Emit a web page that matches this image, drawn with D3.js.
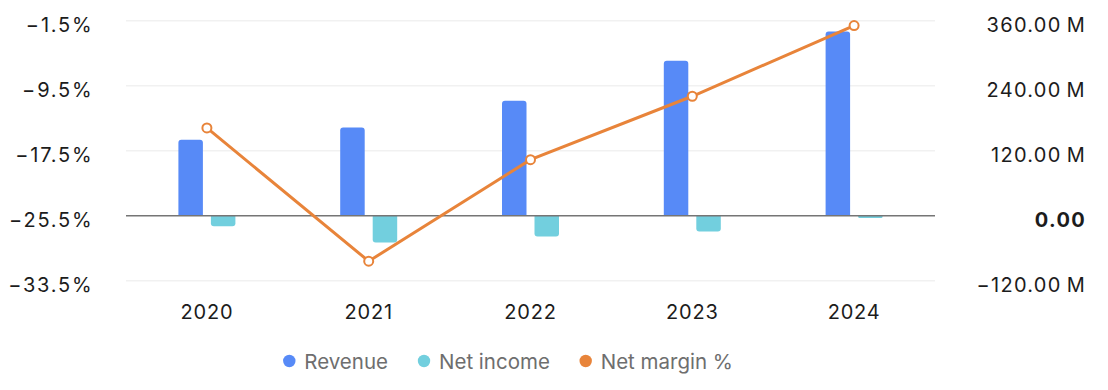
<!DOCTYPE html>
<html lang="en">
<head>
<meta charset="UTF-8" />
<script src="https://d3js.org/d3.v7.min.js"></script>
<style>
  body { margin: 0; background: #fff; }
  svg text { font-family: Inter, "Noto Sans", sans-serif; }
</style>
</head>
<body>
<svg id="chart" width="1108" height="390"></svg>
<script>
// data
var years = ['2020', '2021', '2022', '2023', '2024'];
var revenue = [140.3, 163.0, 212.3, 286.0, 340.0];      // millions
var netIncome = [-19.7, -49.3, -38.2, -29.0, -4.3];     // millions
var netMargin = [-14.7, -31.1, -18.6, -10.8, -2.1];     // percent
var leftTicks = [-33.5, -25.5, -17.5, -9.5, -1.5];
var rightTicks = [-120, 0, 120, 240, 360];
var seriesNames = ['Revenue', 'Net income', 'Net margin %'];
var colors = ['#578af7', '#72cfde', '#e8843a'];

var svg = d3.select('#chart');
var plotLeft = 126, plotRight = 935, plotTop = 20.7, plotBottom = 280.7;

var x = d3.scaleBand().domain(years).range([plotLeft, plotRight]);
var yL = d3.scaleLinear().domain([-33.5, -1.5]).range([plotBottom, plotTop]);
var yR = d3.scaleLinear().domain([-120, 360]).range([plotBottom, plotTop]);

// gridlines
svg.append('g').selectAll('line')
  .data(rightTicks.filter(function(d) { return d !== 0; }))
  .enter().append('line')
  .attr('x1', plotLeft).attr('x2', plotRight)
  .attr('y1', function(d) { return yR(d); })
  .attr('y2', function(d) { return yR(d); })
  .attr('stroke', '#f1f1f1')
  .attr('stroke-width', 1.5);

// rounded-end bar path (round the end away from zero)
function barPath(x0, w, y0, y1, r) {
  var h = Math.abs(y1 - y0);
  r = Math.min(r, h / 2, w / 2);
  var s = y1 < y0 ? 1 : -1;
  return 'M' + x0 + ',' + y0 + 'V' + (y1 + s * r) +
    'Q' + x0 + ',' + y1 + ' ' + (x0 + r) + ',' + y1 +
    'H' + (x0 + w - r) +
    'Q' + (x0 + w) + ',' + y1 + ' ' + (x0 + w) + ',' + (y1 + s * r) +
    'V' + y0 + 'Z';
}

var barW = 24.5, gap = 8;
var bars = svg.append('g');
bars.selectAll('path.rev')
  .data(revenue)
  .enter().append('path')
  .attr('class', 'rev')
  .attr('fill', colors[0])
  .attr('d', function(d, i) {
    var c = x(years[i]) + x.bandwidth() / 2;
    return barPath(c - gap / 2 - barW, barW, yR(0), yR(d), 3);
  });
bars.selectAll('path.ni')
  .data(netIncome)
  .enter().append('path')
  .attr('class', 'ni')
  .attr('fill', colors[1])
  .attr('d', function(d, i) {
    var c = x(years[i]) + x.bandwidth() / 2;
    return barPath(c + gap / 2, barW, yR(0), yR(d), 3);
  });

// zero line
svg.append('line')
  .attr('x1', plotLeft).attr('x2', plotRight)
  .attr('y1', yR(0)).attr('y2', yR(0))
  .attr('stroke', '#757575')
  .attr('stroke-width', 1.5);

// net margin line
var line = d3.line()
  .x(function(d, i) { return x(years[i]) + x.bandwidth() / 2; })
  .y(function(d) { return yL(d); });
svg.append('path')
  .datum(netMargin)
  .attr('fill', 'none')
  .attr('stroke', colors[2])
  .attr('stroke-width', 3)
  .attr('d', line);
svg.append('g').selectAll('circle')
  .data(netMargin)
  .enter().append('circle')
  .attr('cx', function(d, i) { return x(years[i]) + x.bandwidth() / 2; })
  .attr('cy', function(d) { return yL(d); })
  .attr('r', 4.5)
  .attr('fill', '#fff')
  .attr('stroke', colors[2])
  .attr('stroke-width', 2);

// left axis labels
svg.append('g').selectAll('text')
  .data(leftTicks)
  .enter().append('text')
  .attr('x', 93.5)
  .attr('y', function(d) { return yL(d) + 11; })
  .attr('text-anchor', 'end')
  .attr('fill', '#1c1c1c')
  .style('font-size', '20px')
  .style('letter-spacing', '1.8px')
  .text(function(d) { return d3.format('.1f')(d).replace('-', '\u2212') + '%'; });

// right axis labels
svg.append('g').selectAll('text')
  .data(rightTicks)
  .enter().append('text')
  .attr('x', 1086)
  .attr('y', function(d) { return yR(d) + 11; })
  .attr('text-anchor', 'end')
  .attr('fill', '#1c1c1c')
  .style('font-size', '20px')
  .style('letter-spacing', '1.3px')
  .style('font-weight', function(d) { return d === 0 ? 'bold' : 'normal'; })
  .text(function(d) {
    if (d === 0) return '0.00';
    return d3.format('.2f')(d).replace('-', '\u2212') + '\u2009M';
  });

// x axis labels
svg.append('g').selectAll('text')
  .data(years)
  .enter().append('text')
  .attr('x', function(d) { return x(d) + x.bandwidth() / 2; })
  .attr('y', 319)
  .attr('text-anchor', 'middle')
  .attr('fill', '#1c1c1c')
  .style('font-size', '20px')
  .style('letter-spacing', '0.8px')
  .text(function(d) { return d; });

// legend
var legendX = [289.3, 424, 585.7];
var leg = svg.append('g').selectAll('g')
  .data(seriesNames)
  .enter().append('g')
  .attr('transform', function(d, i) { return 'translate(' + legendX[i] + ',361)'; });
leg.append('circle')
  .attr('r', 6.2)
  .attr('fill', function(d, i) { return colors[i]; });
leg.append('text')
  .attr('x', 15)
  .attr('y', 8)
  .attr('fill', '#6e6e6e')
  .style('font-size', '20.5px')
  .text(function(d) { return d; });
</script>
</body>
</html>
